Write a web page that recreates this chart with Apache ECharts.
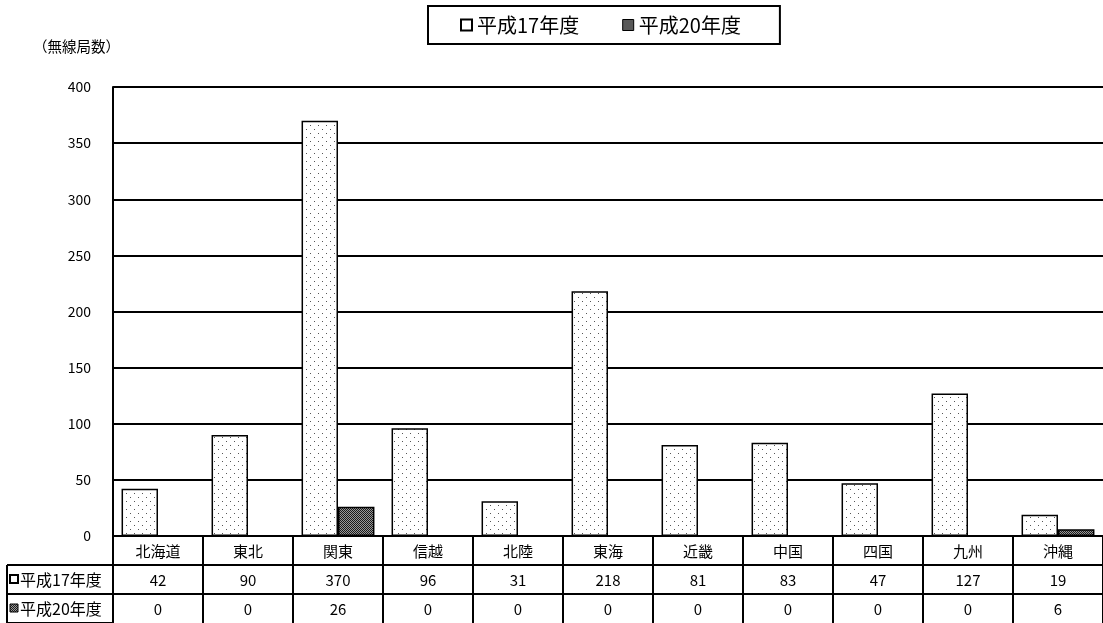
<!DOCTYPE html>
<html>
<head>
<meta charset="utf-8">
<script src="https://cdn.jsdelivr.net/npm/echarts@6/dist/echarts.min.js"></script>
<style>
html,body{margin:0;padding:0;background:#fff;}
#c{width:1103px;height:623px;}
</style>
</head>
<body>
<div id="c"></div>
<script>
const categories = ['北海道','東北','関東','信越','北陸','東海','近畿','中国','四国','九州','沖縄'];
const seriesNames = ['平成17年度','平成20年度'];
const valuesH17 = [42,90,370,96,31,218,81,83,47,127,19];
const valuesH20 = [0,0,26,0,0,0,0,0,0,0,6];
const yTicks = {min:0, max:400, interval:50};
const yName = '（無線局数）';

const FONT = '"Noto Sans CJK JP","Noto Sans CJK SC",sans-serif';

function dotPattern(){
  const c = document.createElement('canvas');
  c.width = 8; c.height = 8;
  const g = c.getContext('2d');
  g.fillStyle = '#fff'; g.fillRect(0,0,8,8);
  g.fillStyle = '#555';
  g.fillRect(2,1,1,1);
  g.fillRect(6,5,1,1);
  return c;
}
function darkPattern(){
  const c = document.createElement('canvas');
  c.width = 2; c.height = 2;
  const g = c.getContext('2d');
  g.fillStyle = '#999'; g.fillRect(0,0,2,2);
  g.fillStyle = '#1a1a1a';
  g.fillRect(0,0,1,1);
  g.fillRect(1,1,1,1);
  return c;
}
const patLight = {image: dotPattern(), repeat: 'repeat'};
const patDark = {image: darkPattern(), repeat: 'repeat'};

const GL = 113, GT = 87, GW = 992, GB = 87;
const ROW = 29;

const chart = echarts.init(document.getElementById('c'));

function tableAxis(data, offset, size){
  return {
    type: 'category',
    data: data,
    position: 'bottom',
    offset: offset,
    boundaryGap: true,
    axisLine: {show: true, lineStyle: {color: '#000', width: 2}},
    axisTick: {show: true, length: ROW, interval: 0, alignWithLabel: false, lineStyle: {color: '#000', width: 2}},
    axisLabel: {show: true, interval: 0, margin: (ROW - size) / 2 + 0.5, color: '#000', fontSize: size, fontFamily: FONT},
    splitLine: {show: false}
  };
}

const option = {
  animation: false,
  backgroundColor: '#fff',
  textStyle: {fontFamily: FONT, color: '#000'},
  grid: {left: GL, top: GT, width: GW, bottom: GB, containLabel: false},
  legend: {
    left: 428, top: 6,
    padding: [9, 39, 9, 32],
    borderColor: '#000', borderWidth: 2,
    itemWidth: 11, itemHeight: 11, itemGap: 43,
    icon: 'rect',
    textStyle: {fontSize: 20, fontFamily: FONT, color: '#000', lineHeight: 20},
    data: [
      {name: seriesNames[0], itemStyle: {color: '#fff', borderColor: '#000', borderWidth: 2}},
      {name: seriesNames[1], itemStyle: {color: patDark, borderColor: '#000', borderWidth: 1}}
    ]
  },
  xAxis: [
    tableAxis(categories, 0, 15),
    tableAxis(valuesH17.map(String), ROW, 15),
    tableAxis(valuesH20.map(String), ROW*2, 15)
  ],
  yAxis: {
    type: 'value',
    min: yTicks.min, max: yTicks.max, interval: yTicks.interval,
    axisLine: {show: true, lineStyle: {color: '#000', width: 2}},
    axisTick: {show: false},
    axisLabel: {margin: 22, color: '#000', fontSize: 14, fontFamily: FONT},
    splitLine: {show: true, lineStyle: {color: '#000', width: 2}}
  },
  series: [
    {
      name: seriesNames[0], type: 'bar', xAxisIndex: 0,
      data: valuesH17,
      barGap: '0%', barCategoryGap: '19%',
      itemStyle: {color: patLight, borderColor: '#000', borderWidth: 1.5}
    },
    {
      name: seriesNames[1], type: 'bar', xAxisIndex: 0,
      data: valuesH20,
      barGap: '0%', barCategoryGap: '19%',
      itemStyle: {color: patDark, borderColor: '#000', borderWidth: 1.5}
    }
  ]
};
chart.setOption(option);

// y-axis name and table row-label column
const yBottom = chart.convertToPixel({yAxisIndex: 0}, 0);
const r1 = yBottom + ROW, r2 = yBottom + ROW*2, r3 = yBottom + ROW*3;
const colL = 7;
chart.setOption({
  graphic: [
    {type: 'text', left: 33, top: 39, style: {text: yName, fontSize: 14.5, fontFamily: FONT, fill: '#000'}},
    {type: 'line', shape: {x1: colL, y1: r1, x2: GL, y2: r1}, style: {stroke: '#000', lineWidth: 2}},
    {type: 'line', shape: {x1: colL, y1: r2, x2: GL, y2: r2}, style: {stroke: '#000', lineWidth: 2}},
    {type: 'line', shape: {x1: colL, y1: r3, x2: GL, y2: r3}, style: {stroke: '#000', lineWidth: 2}},
    {type: 'line', shape: {x1: colL, y1: r1, x2: colL, y2: r3}, style: {stroke: '#000', lineWidth: 2}},
    {type: 'line', shape: {x1: GL, y1: yBottom, x2: GL, y2: r3}, style: {stroke: '#000', lineWidth: 2}},
    {type: 'rect', shape: {x: 10, y: r1 + 10, width: 8, height: 8}, style: {fill: '#fff', stroke: '#000', lineWidth: 2}},
    {type: 'text', x: 20, y: r1 + ROW/2, style: {text: seriesNames[0], fontSize: 16, fontFamily: FONT, fill: '#000', textVerticalAlign: 'middle', verticalAlign: 'middle'}},
    {type: 'rect', shape: {x: 10, y: r2 + 10, width: 8, height: 8}, style: {fill: patDark, stroke: '#000', lineWidth: 1}},
    {type: 'text', x: 20, y: r2 + ROW/2, style: {text: seriesNames[1], fontSize: 16, fontFamily: FONT, fill: '#000', textVerticalAlign: 'middle', verticalAlign: 'middle'}}
  ]
});
</script>
</body>
</html>
